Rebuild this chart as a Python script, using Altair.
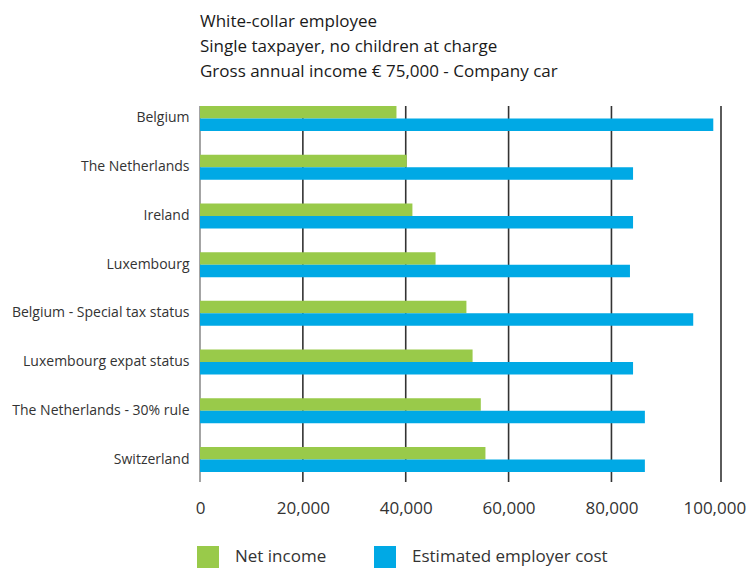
import altair as alt
import pandas as pd

countries = [
    "Belgium",
    "The Netherlands",
    "Ireland",
    "Luxembourg",
    "Belgium - Special tax status",
    "Luxembourg expat status",
    "The Netherlands - 30% rule",
    "Switzerland",
]
net_income = [38200, 40200, 41300, 45800, 51800, 53000, 54600, 55500]
employer_cost = [99800, 84200, 84200, 83600, 95900, 84200, 86500, 86500]
series = ["Net income", "Estimated employer cost"]
series_colors = ["#99CA4A", "#00A9E5"]
tick_values = [0, 20000, 40000, 60000, 80000, 100000]
grid_values = [20000, 40000, 60000, 80000]
x_max = 101300
title_lines = [
    "White-collar employee",
    "Single taxpayer, no children at charge",
    "Gross annual income € 75,000 - Company car",
]

rows = []
for c, n, e in zip(countries, net_income, employer_cost):
    rows.append({"country": c, "series": series[0], "value": n})
    rows.append({"country": c, "series": series[1], "value": e})
df = pd.DataFrame(rows)

grid_df = pd.DataFrame({"value": grid_values + [x_max]})
zero_df = pd.DataFrame({"value": [0]})

FONT = "Open Sans"
xscale = alt.Scale(domain=[0, x_max], nice=False, zero=True)
xaxis = alt.Axis(
    values=tick_values,
    labelExpr="format(datum.value, ',.0f')",
    grid=False,
    domain=False,
    ticks=False,
    labelFlush=False,
    labelFontSize=17,
    labelColor="#333333",
    labelPadding=18,
    labelFont=FONT,
)

grid = alt.Chart(grid_df).mark_rule(color="#333333", strokeWidth=1.6).encode(
    x=alt.X("value:Q", scale=xscale, axis=xaxis, title=None)
)
zero = alt.Chart(zero_df).mark_rule(color="#9a9a9a", strokeWidth=1.8).encode(
    x=alt.X("value:Q", scale=xscale, axis=xaxis, title=None)
)

bars = alt.Chart(df).mark_bar().encode(
    x=alt.X("value:Q", scale=xscale, title=None, axis=xaxis),
    y=alt.Y(
        "country:N",
        sort=countries,
        title=None,
        scale=alt.Scale(range=[0, 366], paddingInner=0.487, paddingOuter=0),
        axis=alt.Axis(
            domain=False,
            ticks=False,
            labelFontSize=14,
            labelColor="#333333",
            labelPadding=11,
            labelFont=FONT,
            labelLimit=300,
        ),
    ),
    yOffset=alt.YOffset("series:N", sort=series, scale=alt.Scale(paddingInner=0, paddingOuter=0)),
    color=alt.Color(
        "series:N",
        sort=series,
        scale=alt.Scale(domain=series, range=series_colors),
        legend=alt.Legend(
            title=None,
            orient="none",
            legendX=-3,
            legendY=440,
            direction="horizontal",
            symbolType="square",
            symbolSize=484,
            symbolStrokeWidth=0,
            symbolOpacity=1,
            labelFontSize=17,
            labelColor="#333333",
            labelFont=FONT,
            labelOffset=16,
            labelLimit=400,
            columnPadding=47,
        ),
    ),
)

chart = (
    alt.layer(grid, zero, bars)
    .properties(
        width=521,
        height=376,
        autosize=alt.AutoSizeParams(type="none"),
        padding={"left": 200, "top": 106, "right": 27, "bottom": 87},
        title=alt.Title(
            title_lines,
            anchor="start",
            frame="group",
            fontSize=17,
            lineHeight=25,
            font=FONT,
            fontWeight="normal",
            color="#1a1a1a",
            offset=24,
        ),
    )
    .configure_view(stroke=None)
)

chart.save("out.html", embed_options={"renderer": "svg", "actions": False})
